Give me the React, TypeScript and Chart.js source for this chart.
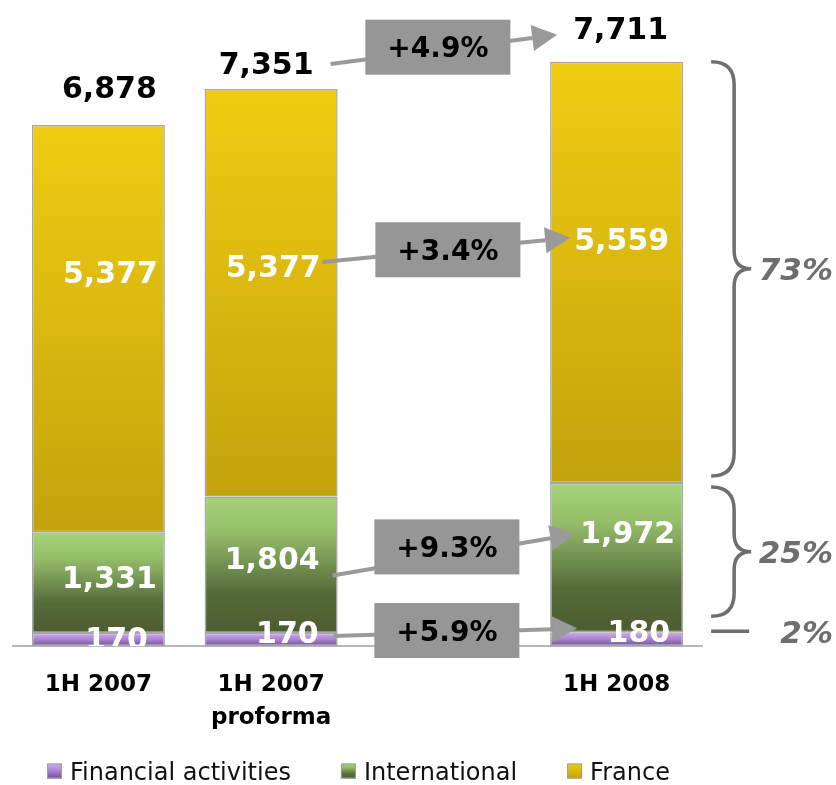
import React, { useEffect, useRef } from "react";
import { Chart, registerables } from "chart.js";
Chart.register(...registerables);

// ---------- data ----------
const categories = ["1H 2007", "1H 2007 proforma", "", "1H 2008"];
const tickLabels = [["1H 2007"], ["1H 2007", "proforma"], [], ["1H 2008"]];
const seriesNames = ["Financial activities", "International", "France"];
const financial = [170, 170, null, 180];
const international = [1331, 1804, null, 1972];
const france = [5377, 5377, null, 5559];
const totals = [6878, 7351, null, 7711];
// growth 1H 2007 proforma -> 1H 2008: total, France, International, Financial
const growthLabels = ["+4.9%", "+3.4%", "+9.3%", "+5.9%"];
// share of 1H 2008: Financial, International, France
const shareLabels = ["2%", "25%", "73%"];
const yMax = 8500;

// ---------- style ----------
const FONT = "'DejaVu Sans', Verdana, sans-serif";
const gradStops: [number, string][][] = [
  [[0, "#D2A9FA"], [0.5, "#A883D0"], [1, "#6E4F94"]],
  [[0, "#A5D27B"], [0.25, "#96BF6A"], [0.7, "#566B3B"], [1, "#4A5D30"]],
  [[0, "#F0CC12"], [1, "#C3A30C"]],
];
const seriesData = [financial, international, france];
const barIdx = [0, 1, 3];

// label placement (px) per dataset / bar
const labelDy = [
  [5, -1, 0, -1],
  [45, 62, 0, 49],
  [147, 177, 0, 177],
];
const labelInset = [
  [17, 19, 0, 13],
  [8, 18, 0, 8],
  [7, 17, 0, 14],
];
const totalDy = [38, 26, 0, 34];
const totalDx = [11, -5, 0, 4];

function makeGradient(ctx: CanvasRenderingContext2D, y0: number, y1: number, d: number) {
  const g = ctx.createLinearGradient(0, y0, 0, y1);
  gradStops[d].forEach(([o, c]) => g.addColorStop(o, c));
  return g;
}

function textAt(ctx: CanvasRenderingContext2D, s: string, x: number, cy: number, size: number, align: CanvasTextAlign) {
  ctx.textAlign = align;
  ctx.textBaseline = "alphabetic";
  ctx.fillText(s, x, cy + size * 0.3645);
}

const overlay = {
  id: "overlay",
  afterDatasetsDraw(chart: any) {
    const ctx: CanvasRenderingContext2D = chart.ctx;
    const area = chart.chartArea;
    const W = chart.width;
    const el = (d: number, i: number) => chart.getDatasetMeta(d).data[i] as any;
    const fmt = (v: number) => v.toLocaleString("en-US");
    const NUM = 30;

    ctx.save();
    // axis line
    ctx.strokeStyle = "#A0A0A0";
    ctx.lineWidth = 1.5;
    ctx.beginPath();
    ctx.moveTo(area.left, area.bottom);
    ctx.lineTo(area.right, area.bottom);
    ctx.stroke();

    const labelY = (d: number, i: number) => el(d, i).y + labelDy[d][i];
    const totalY = (i: number) => el(2, i).y - totalDy[i];

    // arrows & growth boxes
    const b2 = el(2, 1);
    const b3 = el(2, 3);
    const b2Right = b2.x + b2.width / 2;
    const b3Left = b3.x - b3.width / 2;
    const gapX = chart.scales.x.getPixelForValue(2);
    const rows = [
      { y1: totalY(1) + 1, y2: totalY(3) + 7, sx: -7, tx: 7, bdx: -6, bdy: -3 },
      { y1: labelY(2, 1) - 4, y2: labelY(2, 3) - 1, sx: -15, tx: 20, bdx: 4, bdy: 0 },
      { y1: labelY(1, 1) + 17, y2: labelY(1, 3) + 2, sx: -5, tx: 25, bdx: 3, bdy: -9 },
      { y1: labelY(0, 1) + 4, y2: labelY(0, 3) - 3, sx: -4, tx: 27, bdx: 3, bdy: -2 },
    ];
    rows.forEach((r, k) => {
      const x1 = b2Right + r.sx;
      const x2 = b3Left + r.tx;
      const ang = Math.atan2(r.y2 - r.y1, x2 - x1);
      const L = 25, H = 13;
      const bx = x2 - L * Math.cos(ang);
      const by = r.y2 - L * Math.sin(ang);
      ctx.strokeStyle = "#9A9A9A";
      ctx.fillStyle = "#9A9A9A";
      ctx.lineWidth = 4;
      ctx.beginPath();
      ctx.moveTo(x1, r.y1);
      ctx.lineTo(bx, by);
      ctx.stroke();
      ctx.beginPath();
      ctx.moveTo(x2, r.y2);
      ctx.lineTo(bx - H * Math.sin(ang), by + H * Math.cos(ang));
      ctx.lineTo(bx + H * Math.sin(ang), by - H * Math.cos(ang));
      ctx.closePath();
      ctx.fill();
      const cx = gapX + r.bdx;
      const lineY = r.y1 + ((cx - x1) / (x2 - x1)) * (r.y2 - r.y1);
      const cy = lineY + r.bdy;
      ctx.fillStyle = "#969696";
      ctx.fillRect(cx - 72.5, cy - 27.5, 145, 55);
      ctx.fillStyle = "#000";
      ctx.font = `bold 28px ${FONT}`;
      textAt(ctx, growthLabels[k], cx, cy, 28, "center");
    });

    // segment labels (clipped at the axis)
    ctx.save();
    ctx.beginPath();
    ctx.rect(0, 0, W, area.bottom);
    ctx.clip();
    ctx.fillStyle = "#FFFFFF";
    ctx.font = `bold ${NUM}px ${FONT}`;
    for (let d = 0; d < 3; d++) {
      barIdx.forEach((i) => {
        const e = el(d, i);
        const v = seriesData[d][i] as number;
        textAt(ctx, fmt(v), e.x + e.width / 2 - labelInset[d][i], labelY(d, i), NUM, "right");
      });
    }
    ctx.restore();

    // totals
    ctx.fillStyle = "#000";
    ctx.font = `bold ${NUM}px ${FONT}`;
    barIdx.forEach((i) => {
      const e = el(2, i);
      textAt(ctx, fmt(totals[i] as number), e.x + totalDx[i], totalY(i), NUM, "center");
    });

    // x labels
    ctx.font = `bold 23px ${FONT}`;
    tickLabels.forEach((lines, i) => {
      const x = chart.scales.x.getPixelForValue(i);
      lines.forEach((s, j) => textAt(ctx, s, x, area.bottom + 37 + j * 33, 23, "center"));
    });

    // braces for 1H 2008 shares
    const bR = b3.x + b3.width / 2;
    const x0 = bR + 28, x1 = bR + 51, x2 = bR + 68;
    ctx.strokeStyle = "#6E6E6E";
    ctx.lineWidth = 3.5;
    const brace = (yT: number, yB: number) => {
      const ym = (yT + yB) / 2;
      const r = x1 - x0;
      ctx.beginPath();
      ctx.moveTo(x0, yT);
      ctx.quadraticCurveTo(x1, yT, x1, yT + r);
      ctx.lineTo(x1, ym - 18);
      ctx.quadraticCurveTo(x1, ym, x2, ym);
      ctx.quadraticCurveTo(x1, ym, x1, ym + 18);
      ctx.lineTo(x1, yB - r);
      ctx.quadraticCurveTo(x1, yB, x0, yB);
      ctx.stroke();
      return ym;
    };
    const fr = el(2, 3), it = el(1, 3), fi = el(0, 3);
    const m73 = brace(fr.y, fr.base - 7);
    const m25 = brace(it.y + 4, it.base - 16);
    const y2p = fi.y - 1;
    ctx.beginPath();
    ctx.moveTo(x0, y2p);
    ctx.lineTo(bR + 66, y2p);
    ctx.stroke();
    ctx.fillStyle = "#6E6E6E";
    ctx.font = `italic bold 31px ${FONT}`;
    textAt(ctx, shareLabels[2], W - 3, m73, 31, "right");
    textAt(ctx, shareLabels[1], W - 3, m25, 31, "right");
    textAt(ctx, shareLabels[0], W - 3, y2p, 31, "right");

    // legend
    ctx.font = `24px ${FONT}`;
    let lx = 47;
    const ly = 771;
    seriesNames.forEach((name, d) => {
      ctx.fillStyle = makeGradient(ctx, ly - 7.5, ly + 7.5, d);
      ctx.fillRect(lx, ly - 7.5, 15, 15);
      ctx.strokeStyle = "#A0A0A0";
      ctx.lineWidth = 1;
      ctx.strokeRect(lx + 0.5, ly - 7, 14, 14);
      ctx.fillStyle = "#111";
      textAt(ctx, name, lx + 23, ly, 24, "left");
      lx += 23 + ctx.measureText(name).width + 50;
    });
    ctx.restore();
  },
};

export default function App() {
  const ref = useRef<HTMLCanvasElement>(null);
  useEffect(() => {
    document.body.style.margin = "0";
    const lowerSum = (d: number, i: number) => {
      let s = 0;
      for (let k = 0; k < d; k++) s += (seriesData[k][i] as number) || 0;
      return s;
    };
    const chart = new Chart(ref.current!, {
      type: "bar",
      data: {
        labels: categories,
        datasets: seriesNames.map((name, d) => ({
          label: name,
          data: seriesData[d] as any,
          backgroundColor: (c: any) => {
            const ch = c.chart;
            const v = seriesData[d][c.dataIndex];
            if (!ch.chartArea || v == null) return gradStops[d][0][1];
            const lo = lowerSum(d, c.dataIndex);
            const yT = ch.scales.y.getPixelForValue(lo + (v as number));
            const yB = ch.scales.y.getPixelForValue(lo);
            return makeGradient(ch.ctx, yT, yB, d);
          },
          borderColor: "#A6A6A6",
          borderWidth: 1.5,
          borderSkipped: false,
          categoryPercentage: 1,
          barPercentage: 0.77,
        })),
      },
      options: {
        responsive: false,
        animation: false,
        layout: { padding: { left: 12, right: 133, top: 2, bottom: 139 } },
        scales: {
          x: { display: false, stacked: true },
          y: { display: false, stacked: true, min: 0, max: yMax },
        },
        plugins: { legend: { display: false }, tooltip: { enabled: false } },
      },
      plugins: [overlay],
    });
    return () => chart.destroy();
  }, []);
  return (
    <div style={{ width: 836, height: 785 }}>
      <canvas ref={ref} width={836} height={785} style={{ display: "block" }} />
    </div>
  );
}
